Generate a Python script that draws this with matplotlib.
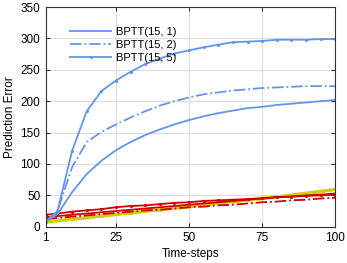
import numpy as np
import matplotlib
matplotlib.use("Agg")
import matplotlib.pyplot as plt

plt.rcParams['font.family'] = ['Liberation Sans', 'DejaVu Sans']

# time steps where the series were sampled
steps = [1, 5, 10, 15, 20, 25, 30, 35, 40, 45, 50, 55, 60, 65, 70, 75, 80, 85, 90, 95, 100]

# BPTT curves (blue)
bptt_1 = [8, 20, 55, 84, 105, 122, 135, 146, 155, 163, 170, 176, 181, 185, 189, 191, 194, 196, 198, 200, 202]
bptt_2 = [8, 25, 95, 135, 151, 163, 174, 184, 193, 200, 206, 211, 214, 217, 219, 221, 222, 223, 224, 224, 224]
bptt_5 = [8, 25, 121, 184, 216, 233, 247, 259, 268, 276, 281, 286, 290, 294, 295, 296, 298, 298, 298, 299, 299]

# red curves
red_1 = [15, 17, 19, 21, 23, 25, 27, 29, 31, 33, 35, 37, 39, 41, 43, 45, 47, 48, 50, 51, 53]
red_2 = [12, 14, 16, 18, 20, 22, 24, 26, 27, 29, 31, 32, 34, 35, 37, 39, 40, 42, 43, 45, 46]
red_5 = [19, 21, 24, 26, 28, 31, 33, 34, 36, 38, 39, 41, 42, 43, 44, 45, 47, 48, 49, 50, 51]

# yellow curves (nearly overlapping)
yel_1 = [7, 9, 12, 14, 17, 19, 22, 24, 27, 29, 32, 35, 37, 40, 42, 45, 48, 50, 53, 56, 59]
yel_2 = [7, 9, 11, 14, 16, 19, 21, 24, 26, 29, 31, 34, 37, 39, 42, 44, 47, 50, 52, 55, 58]
yel_5 = [8, 10, 12, 15, 17, 20, 22, 25, 27, 30, 33, 35, 38, 40, 43, 46, 48, 51, 54, 57, 60]

blue = '#6495ED'
red = '#D00000'
yellow = '#D2CF00'

fig = plt.figure(figsize=(3.47, 2.63), dpi=100)
ax = fig.add_axes([0.132, 0.138, 0.834, 0.835])

ax.plot(steps, yel_1, color=yellow, lw=1.8)
ax.plot(steps, yel_2, color=yellow, lw=1.8, ls='-.')
ax.plot(steps, yel_5, color=yellow, lw=1.8, marker='.', ms=2.5)

ax.plot(steps, red_1, color=red, lw=1.3)
ax.plot(steps, red_2, color=red, lw=1.3, ls='-.')
ax.plot(steps, red_5, color=red, lw=1.3, marker='.', ms=2.5)

ax.plot(steps, bptt_1, color=blue, lw=1.3, label='BPTT(15, 1)')
ax.plot(steps, bptt_2, color=blue, lw=1.3, ls='-.', label='BPTT(15, 2)')
ax.plot(steps, bptt_5, color=blue, lw=1.3, marker='.', ms=2.5, label='BPTT(15, 5)')

ax.set_xlim(1, 100)
ax.set_ylim(0, 350)
ax.set_xticks([1, 25, 50, 75, 100])
ax.set_yticks(np.arange(0, 351, 50))
ax.grid(True, color='#dddddd', lw=0.8)
ax.set_axisbelow(True)
ax.tick_params(direction='in', length=3, labelsize=8.5, top=True, right=True, width=0.6, pad=4)
for s in ax.spines.values():
    s.set_linewidth(0.8)
    s.set_color('#333333')

ax.set_xlabel('Time-steps', fontsize=8.5, labelpad=3)
ax.set_ylabel('Prediction Error', fontsize=8.5, labelpad=3)

ax.legend(loc='upper left', bbox_to_anchor=(0.05, 0.955), frameon=False, fontsize=8,
          handlelength=3.7, handletextpad=0.45, labelspacing=0.25)

fig.savefig('out.png', dpi=100)
